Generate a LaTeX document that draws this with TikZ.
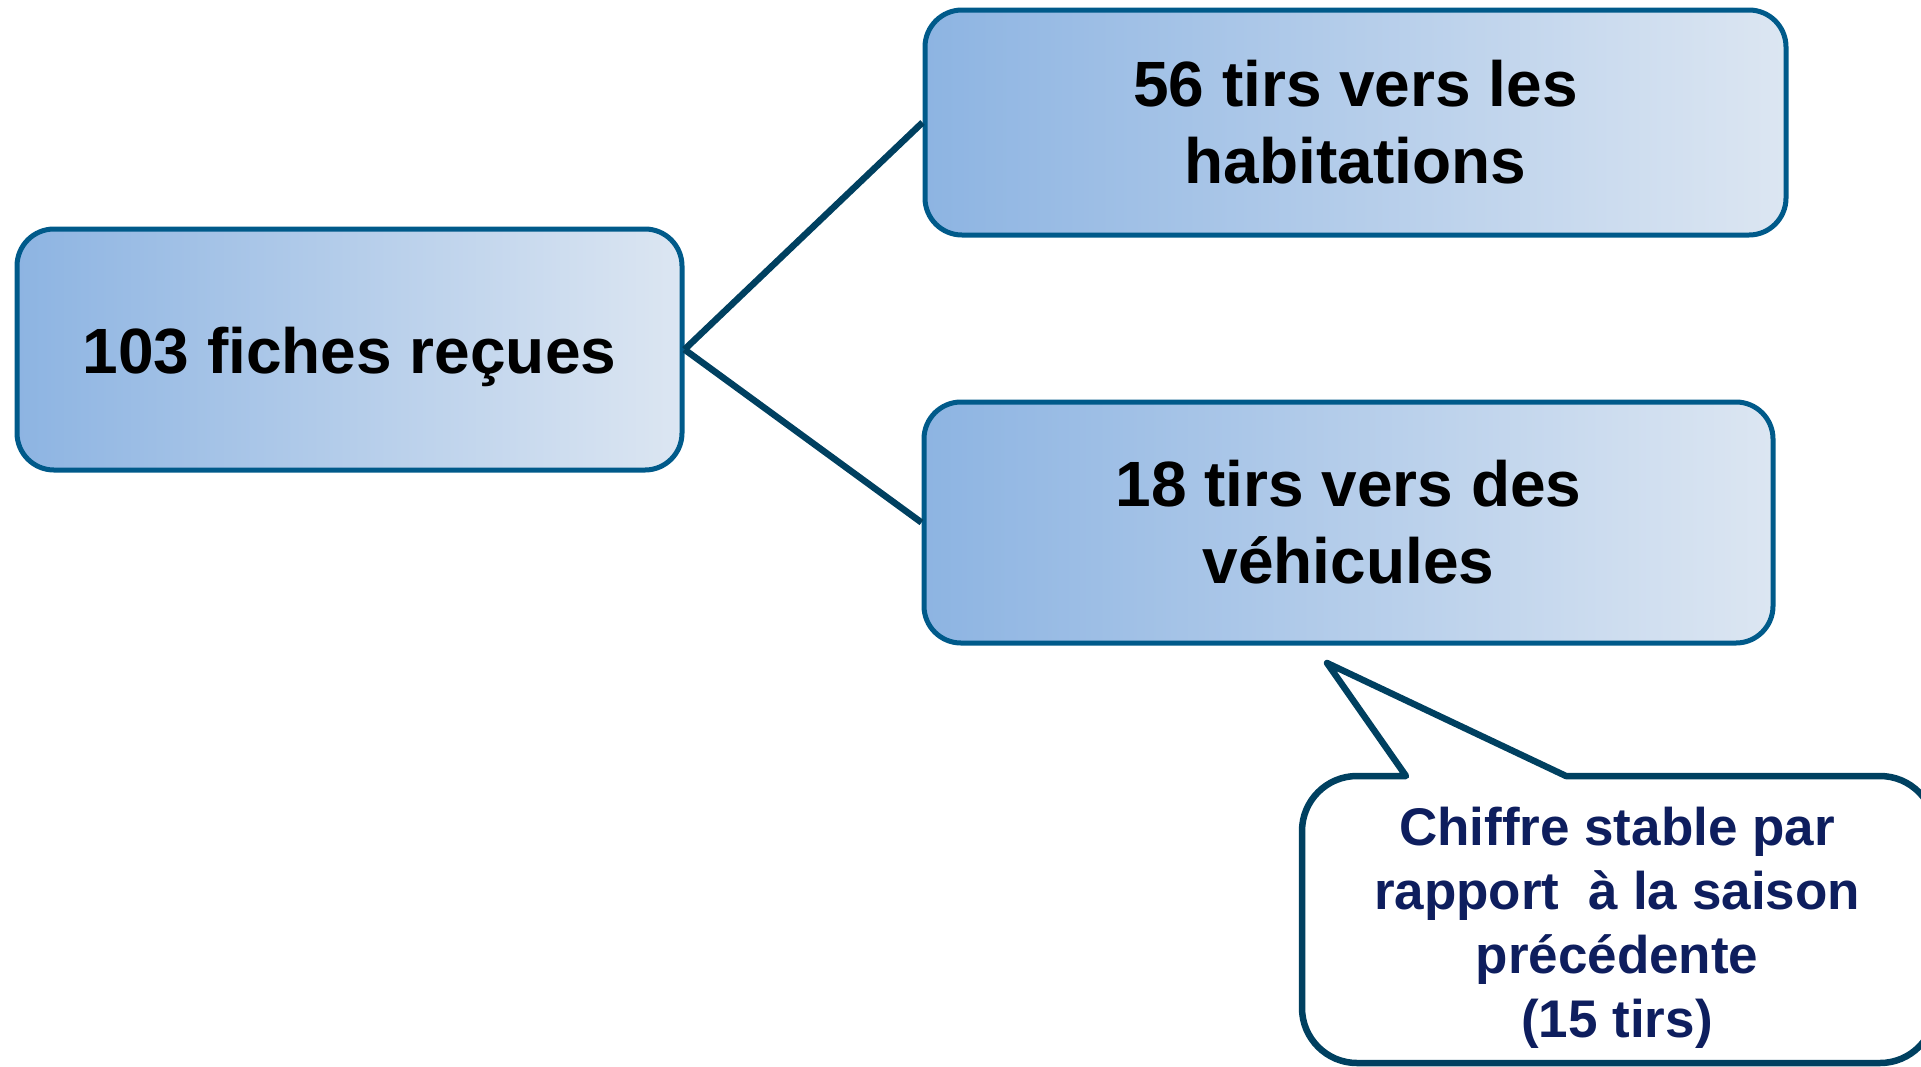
\documentclass[tikz,border=0pt]{standalone}
\usepackage{fontspec}
\setmainfont{Liberation Sans}
\definecolor{boxborder}{RGB}{0,90,138}
\definecolor{linkcol}{RGB}{0,64,96}
\definecolor{gradleft}{RGB}{141,180,226}
\definecolor{gradright}{RGB}{220,230,242}
\definecolor{navytext}{RGB}{14,30,94}
\tikzset{
  gbox/.style={draw=boxborder, line width=5pt, rounded corners=37pt,
    left color=gradleft, right color=gradright, align=center,
    font=\fontsize{64}{77}\selectfont\bfseries, text=black, inner sep=0pt},
  link/.style={draw=linkcol, line width=6.5pt},
  callouttext/.style={align=center, text=navytext, inner sep=0pt,
    font=\fontsize{53}{64}\selectfont\bfseries}
}
\begin{document}
\begin{tikzpicture}[x=1pt,y=1pt]
\useasboundingbox (0,0) rectangle (1921,-1066);
\node[gbox, minimum width=665pt, minimum height=241pt] (fiches) at (349.5,-349.5) {};
\node[font=\fontsize{64}{77}\selectfont\bfseries, inner sep=0pt] (fichestext) at ([yshift=-7pt]fiches.center) {103 fiches reçues};
\node[gbox, minimum width=861pt, minimum height=225pt] (habit) at (1355.5,-122.5) {56 tirs vers les\\habitations};
\node[gbox, minimum width=849pt, minimum height=241pt] (vehic) at (1348.5,-522.5) {18 tirs vers des\\véhicules};
\draw[link] (fiches.east) -- (habit.west);
\draw[link] (fiches.east) -- (vehic.west);
% callout
\coordinate (tip) at (1327,-663);
\coordinate (baseL) at (1406,-776);
\coordinate (baseR) at (1566,-776);
\draw[draw=linkcol, line width=6.5pt, fill=white, line join=round]
  (baseL) -- (tip) -- (baseR) -- (1880,-776)
  arc[start angle=90, end angle=0, radius=55]
  -- (1935,-1008) arc[start angle=0, end angle=-90, radius=55]
  -- (1357,-1063) arc[start angle=-90, end angle=-180, radius=55]
  -- (1302,-831) arc[start angle=180, end angle=90, radius=55]
  -- cycle;
\node[callouttext] (stable) at (1617,-928) {Chiffre stable par\\rapport~~à la saison\\précédente\\(15 tirs)};
\end{tikzpicture}
\end{document}
